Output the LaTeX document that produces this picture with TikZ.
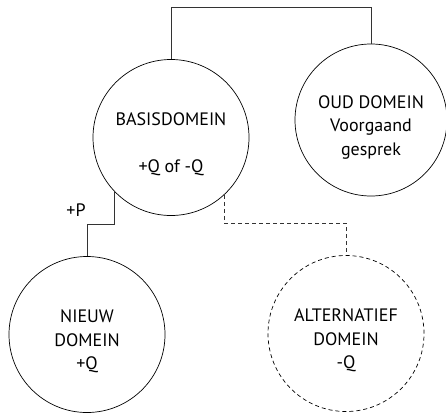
\documentclass[tikz,border=0pt]{standalone}
\usepackage{fontspec}
\setmainfont{PT Sans}
\begin{document}
\begin{tikzpicture}[x=1pt, y=-1pt,
  domein/.style={draw, circle, minimum size=156pt, inner sep=0pt, line width=0.7pt},
  tekst/.style={align=center, inner sep=0pt, font=\fontsize{18}{23.5}\selectfont},
  tak/.style={line width=0.9pt, draw=black!80}]
\useasboundingbox (0,0) rectangle (446,413);
\node (basis) [domein] at (171,137.5) {};
\node (oud) [domein, minimum size=152pt] at (371,120) {};
\node (nieuw) [domein] at (87,334.5) {};
\node (alt) [domein, dashed, dash pattern=on 4pt off 3pt] at (346,333.5) {};

\node (basistekst) [tekst] at ([yshift=-7pt]basis.center) {BASISDOMEIN\\[23.5pt]+Q of -Q};
\node (oudtekst) [tekst] at ([yshift=-7pt]oud.center) {OUD DOMEIN\\Voorgaand\\gesprek};
\node (nieuwtekst) [tekst] at ([yshift=-7pt]nieuw.center) {NIEUW\\DOMEIN\\+Q};
\node (alttekst) [tekst] at ([yshift=-7pt]alt.center) {ALTERNATIEF\\DOMEIN\\-Q};
\coordinate (topbar) at (0,7.5);

\draw [tak] (basis.north) -- (basis.north |- topbar) -- (oud.north |- topbar) -- (oud.north);
\draw [tak] (basis.224) |- ([yshift=32pt]nieuw.north) -- (nieuw.north);
\draw [tak, dashed, dash pattern=on 4pt off 3pt] (basis.313) |- ([yshift=32pt]alt.north) -- (alt.north);

\node (plus) [tekst] at (76,210) {+P};
\end{tikzpicture}
\end{document}
